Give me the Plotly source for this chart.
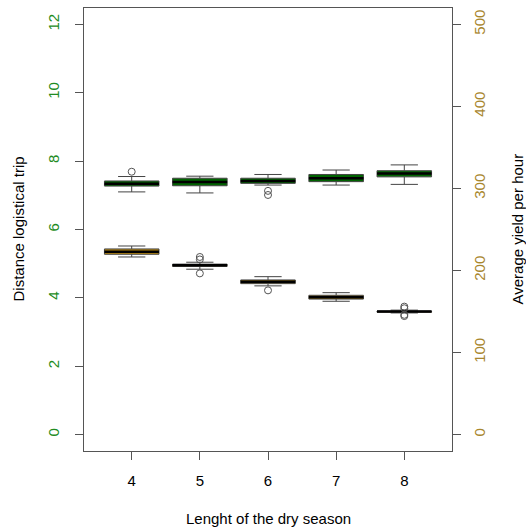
import plotly.graph_objects as go

# Categories: length of the dry season
seasons = [4, 5, 6, 7, 8]

# Distance logistical trip (left axis) - box statistics
dist_lower = [7.10, 7.07, 7.30, 7.30, 7.32]
dist_q1 = [7.27, 7.28, 7.35, 7.40, 7.54]
dist_median = [7.34, 7.39, 7.42, 7.50, 7.64]
dist_q3 = [7.42, 7.50, 7.50, 7.61, 7.72]
dist_upper = [7.55, 7.56, 7.61, 7.74, 7.89]
dist_out_x = [4, 6, 6]
dist_out_y = [7.69, 7.13, 7.01]

# Average yield per hour (right axis) - box statistics
yield_lower = [216.5, 201.6, 181.3, 162.5, 148.3]
yield_q1 = [219.8, 205.0, 184.0, 165.2, 149.2]
yield_median = [223.0, 206.4, 186.3, 167.5, 150.0]
yield_q3 = [226.3, 207.8, 188.5, 169.8, 150.6]
yield_upper = [229.9, 210.1, 192.5, 173.0, 151.7]
yield_out_x = [5, 5, 5, 6, 8, 8, 8, 8]
yield_out_y = [213.5, 216.5, 196.5, 175.8, 156.0, 154.0, 146.0, 144.5]

left_ticks = [0, 2, 4, 6, 8, 10, 12]
right_ticks = [0, 100, 200, 300, 400, 500]

GREEN = "#006400"
GOLD = "#B8860B"
LABEL_GREEN = "#228B22"
LABEL_GOLD = "#A8862E"
BOX_W = 0.8
FONT = "Liberation Sans, Arial, sans-serif"
FS = 15

fig = go.Figure()


def median_segments(xs, meds):
    mx, my = [], []
    for x, m in zip(xs, meds):
        mx += [x - BOX_W / 2, x + BOX_W / 2, None]
        my += [m, m, None]
    return mx, my


fig.add_trace(go.Box(
    x=seasons, q1=dist_q1, median=dist_median, q3=dist_q3,
    lowerfence=dist_lower, upperfence=dist_upper,
    fillcolor=GREEN, line=dict(color="#444444", width=1),
    whiskerwidth=0.5, width=BOX_W, boxpoints=False,
    yaxis="y", showlegend=False, hoverinfo="skip"))
mx, my = median_segments(seasons, dist_median)
fig.add_trace(go.Scatter(x=mx, y=my, mode="lines",
                         line=dict(color="black", width=2.5),
                         yaxis="y", showlegend=False, hoverinfo="skip"))
fig.add_trace(go.Scatter(x=dist_out_x, y=dist_out_y, mode="markers",
                         marker=dict(symbol="circle-open", size=7,
                                     color="#555555", line=dict(width=1)),
                         yaxis="y", showlegend=False))

fig.add_trace(go.Box(
    x=seasons, q1=yield_q1, median=yield_median, q3=yield_q3,
    lowerfence=yield_lower, upperfence=yield_upper,
    fillcolor=GOLD, line=dict(color="#444444", width=1),
    whiskerwidth=0.5, width=BOX_W, boxpoints=False,
    yaxis="y2", showlegend=False, hoverinfo="skip"))
mx, my = median_segments(seasons, yield_median)
fig.add_trace(go.Scatter(x=mx, y=my, mode="lines",
                         line=dict(color="black", width=2.5),
                         yaxis="y2", showlegend=False, hoverinfo="skip"))
fig.add_trace(go.Scatter(x=yield_out_x, y=yield_out_y, mode="markers",
                         marker=dict(symbol="circle-open", size=7,
                                     color="#555555", line=dict(width=1)),
                         yaxis="y2", showlegend=False))

fig.update_layout(
    width=526, height=530,
    margin=dict(l=84, r=74, t=8, b=79),
    paper_bgcolor="white", plot_bgcolor="white",
    font=dict(family=FONT, size=FS, color="black"),
    xaxis=dict(range=[3.3, 8.7], tickvals=seasons, ticktext=[str(s) for s in seasons],
               showgrid=False, zeroline=False, showline=True, linecolor="#555555",
               linewidth=1, mirror=True, ticks="outside", ticklen=8,
               tickcolor="#555555", ticklabelstandoff=8,
               tickfont=dict(size=FS, color="black")),
    yaxis=dict(range=[-0.48, 12.48], tickvals=left_ticks,
               showgrid=False, zeroline=False, showline=True, linecolor="#555555",
               linewidth=1, mirror=True, ticks="outside", ticklen=8,
               tickcolor="#555555", tickangle=-90, ticklabelstandoff=10,
               tickfont=dict(size=FS, color=LABEL_GREEN)),
    yaxis2=dict(range=[-20, 520], tickvals=right_ticks, overlaying="y", side="right",
                showgrid=False, zeroline=False, showline=False,
                ticks="outside", ticklen=8, tickcolor="#555555", tickangle=-90,
                ticklabelstandoff=6,
                tickfont=dict(size=FS, color=LABEL_GOLD)),
    annotations=[
        dict(text="Lenght of the dry season", xref="paper", yref="paper",
             x=0.5, y=(451 - 518) / 443, xanchor="center", yanchor="middle",
             showarrow=False, font=dict(size=FS, color="black")),
        dict(text="Distance logistical trip", xref="paper", yref="paper",
             x=(18 - 84) / 368, y=0.5, xanchor="center", yanchor="middle",
             textangle=-90, showarrow=False, font=dict(size=FS, color="black")),
        dict(text="Average yield per hour", xref="paper", yref="paper",
             x=(517 - 84) / 368, y=0.5, xanchor="center", yanchor="middle",
             textangle=-90, showarrow=False, font=dict(size=FS, color="black")),
    ],
)

fig.write_html("out.html")
